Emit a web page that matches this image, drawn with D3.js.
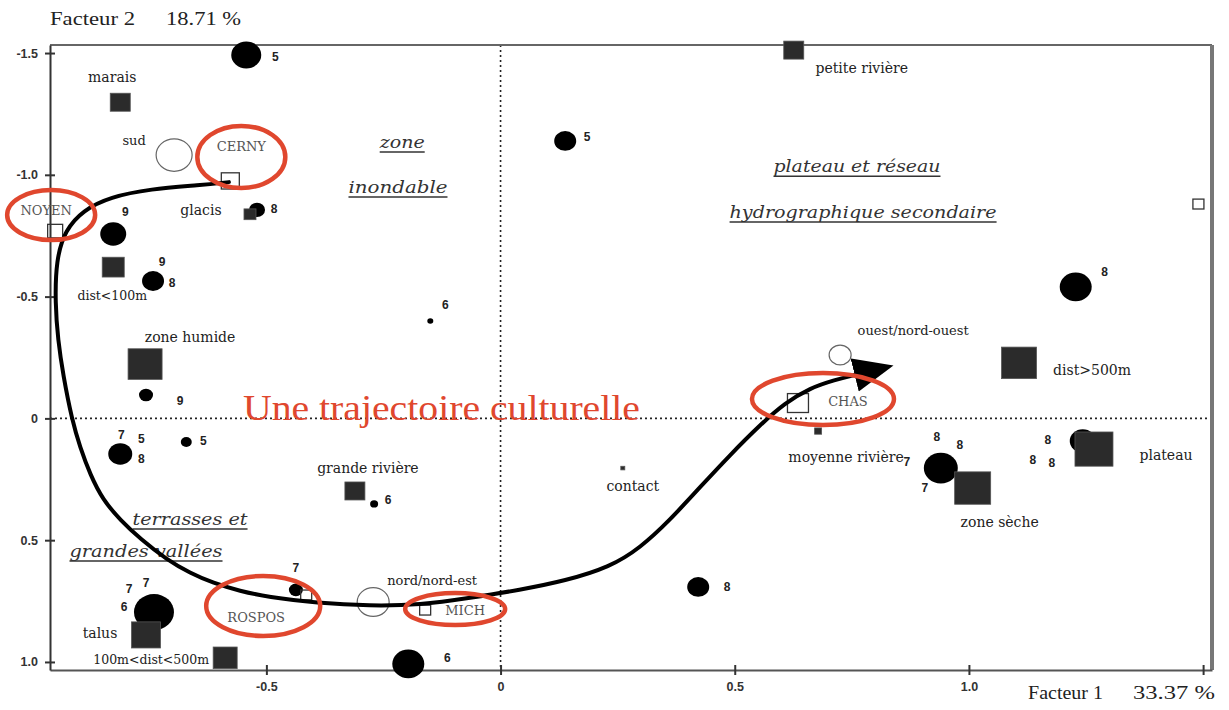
<!DOCTYPE html>
<html>
<head>
<meta charset="utf-8">
<script src="https://cdn.jsdelivr.net/npm/d3@7/dist/d3.min.js"></script>
<style>
    body { margin: 0; background: #fff; }
    svg { display: block; }
    .tick text { font-family: "Liberation Sans", Arial, sans-serif; font-weight: bold; font-size: 12.5px; fill: #333; }
</style>
</head>
<body>
<script>

// DATA

// periods (black circles), with the period numbers written next to them
const periodX = [-0.543, 0.138, -0.520, -0.827, -0.742, -0.757, -0.812, -0.671, -0.150, -0.270, -0.437, -0.740, -0.197, 0.422, 1.228, 0.940, 1.243];
const periodY = [-1.492, -1.139, -0.856, -0.757, -0.564, -0.096, 0.146, 0.097, -0.400, 0.351, 0.704, 0.795, 1.008, 0.692, -0.540, 0.204, 0.093];
const periodWeight = [225, 121, 64, 169, 121, 49, 144, 30, 9, 16, 49, 400, 256, 121, 256, 289, 169];
const periodLabels = [["5"], ["5"], ["8"], ["9"], ["9", "8"], ["9"], ["7", "5", "8"], ["5"], ["6"], ["6"], ["7"], ["7", "7", "6"], ["6"], ["8"], ["8"], ["8", "8", "7", "7"], ["8", "8", "8"]];

// environment modalities (dark squares)
const envNames = ["marais", "petite rivière", "glacis", "dist<100m", "zone humide", "grande rivière", "talus", "100m<dist<500m", "dist>500m", "plateau", "zone sèche", "moyenne rivière", "contact"];
const envX = [-0.812, 0.626, -0.535, -0.827, -0.759, -0.311, -0.757, -0.588, 1.107, 1.267, 1.008, 0.678, 0.261];
const envY = [-1.298, -1.512, -0.838, -0.621, -0.223, 0.298, 0.889, 0.983, -0.228, 0.126, 0.286, 0.052, 0.204];
const envWeight = [400, 400, 144, 484, 1156, 400, 841, 576, 1225, 1444, 1296, 49, 16];

// orientation (open circles)
const orientNames = ["sud", "nord/nord-est", "ouest/nord-ouest"];
const orientX = [-0.697, -0.272, 0.725];
const orientY = [-1.081, 0.754, -0.260];
const orientWeight = [324, 256, 121];

// sites (open squares)
const siteNames = ["CERNY", "NOYEN", "ROSPOS", "MICH", "CHAS", ""];
const siteX = [-0.577, -0.951, -0.415, -0.161, 0.635, 1.490];
const siteY = [-0.975, -0.769, 0.725, 0.787, -0.063, -0.880];
const siteWeight = [324, 225, 121, 121, 441, 121];

// the cultural trajectory drawn through the sites
const trajX = [-0.580, -0.641, -0.748, -0.834, -0.891, -0.930, -0.949, -0.951, -0.945, -0.934, -0.915, -0.898, -0.876, -0.849, -0.812, -0.769, -0.712, -0.663, -0.614, -0.556, -0.498, -0.392, -0.279, -0.172, -0.065, 0.042, 0.138, 0.234, 0.298, 0.362, 0.426, 0.490, 0.554, 0.607, 0.661, 0.714, 0.756];
const trajY = [-0.970, -0.958, -0.942, -0.909, -0.855, -0.773, -0.650, -0.474, -0.322, -0.178, 0.007, 0.117, 0.232, 0.335, 0.417, 0.495, 0.581, 0.635, 0.676, 0.709, 0.733, 0.758, 0.770, 0.766, 0.737, 0.704, 0.667, 0.610, 0.532, 0.417, 0.282, 0.150, 0.027, -0.063, -0.125, -0.158, -0.178];

// zones
const zoneLabels = ["zone", "inondable", "plateau et réseau", "hydrographique secondaire", "terrasses et", "grandes vallées"];

const xTicks = [-0.5, 0, 0.5, 1.0, 1.5];
const yTicks = [-1.5, -1.0, -0.5, 0, 0.5, 1.0];

const factor1 = ["Facteur 1", "33.37 %"];
const factor2 = ["Facteur 2", "18.71 %"];
const trajTitle = "Une trajectoire culturelle";

// LAYOUT

let width = 1229;
let height = 710;
let margin = { left: 50, right: 17, top: 45, bottom: 40 };
let squash = 0.9; // marks are a bit wider than tall in the picture

let periodLabelOffsets = [
    [[29, 2]], [[22, -4]], [[17, -1]], [[12, -22]], [[9, -19], [19, 2]], [[34, 6]],
    [[1, -19], [21, -15], [21, 5]], [[17, -1]], [[15, -16]], [[14, -4]], [[0, -22]],
    [[-25, -23], [-8, -29], [-30, -5]], [[39, -6]], [[29, 0]], [[29, -15]],
    [[-4, -31], [19, -23], [-34, -6], [-16, 20]], [[-35, -1], [-50, 19], [-31, 22]]
];
let envLabelOffsets = [[-8, -25], [68, 18], [-49, -4], [-1, 28], [45, -27], [13, -23], [-46, -2], [-74, 2], [73, 7], [72, 6], [27, 34], [28, 26], [10, 18]];
let orientLabelOffsets = [[-40, -15], [59, -22], [73, -25]];
let siteLabelOffsets = [[11, -34], [-9, -21], [-50, 22], [40, 0], [50, -2], [0, 0]];
// red rings drawn round the sites: dx, dy, rx, ry
let siteRings = [[11, -24, 44, 31], [-4, -16, 44, 25], [-43, 11, 57, 30], [30, -1, 50, 16], [25, -4, 71, 26], null];
// zone labels: anchor in data units, width in px
let zonePos = [[-0.210, -1.110, 45], [-0.219, -0.925, 99], [0.761, -1.011, 167], [0.774, -0.823, 267], [-0.663, 0.438, 115], [-0.757, 0.569, 153]];

let red = "#e0472e";

let svg = d3.select('body').append('svg')
    .attr('width', width)
    .attr('height', height);

svg.append("rect").attr("width", width).attr("height", height).attr("fill", "#fff");

let x_scale = d3.scaleLinear()
    .domain([-0.962, 1.519])
    .range([margin.left, width - margin.right]);

let y_scale = d3.scaleLinear()
    .domain([-1.533, 1.033])
    .range([margin.top, height - margin.bottom]);

let r_scale = d3.scaleSqrt().domain([0, 400]).range([0, 20]);
let side_scale = d3.scaleSqrt().domain([0, 1600]).range([0, 40]);

let fmt = d => d === 0 ? "0" : d.toFixed(1);

// zero lines (dotted)
svg.append("line")
    .attr("x1", x_scale(0)).attr("x2", x_scale(0))
    .attr("y1", y_scale.range()[0]).attr("y2", y_scale.range()[1])
    .attr("stroke", "#222").attr("stroke-width", 1.6).attr("stroke-dasharray", "2,3");
svg.append("line")
    .attr("x1", x_scale.range()[0]).attr("x2", x_scale.range()[1])
    .attr("y1", y_scale(0)).attr("y2", y_scale(0))
    .attr("stroke", "#222").attr("stroke-width", 1.6).attr("stroke-dasharray", "2,3");

// frame top and right
svg.append("line")
    .attr("x1", x_scale.range()[0]).attr("x2", x_scale.range()[1])
    .attr("y1", y_scale.range()[0]).attr("y2", y_scale.range()[0])
    .attr("stroke", "#666").attr("stroke-width", 2);
svg.append("line")
    .attr("x1", x_scale.range()[1]).attr("x2", x_scale.range()[1])
    .attr("y1", y_scale.range()[0]).attr("y2", y_scale.range()[1])
    .attr("stroke", "#777").attr("stroke-width", 4);

// axes
let x_axis = d3.axisBottom(x_scale)
    .tickValues(xTicks)
    .tickFormat(d => d === 1.5 ? "" : fmt(d))
    .tickSizeInner(5).tickSizeOuter(0).tickPadding(7);
let gx = svg.append("g")
    .attr("class", "x axis")
    .attr("transform", "translate(0," + y_scale.range()[1] + ")")
    .call(x_axis);
gx.select(".domain").attr("stroke", "#555").attr("stroke-width", 2);
gx.selectAll(".tick line").attr("y1", -5).attr("stroke", "#333").attr("stroke-width", 2);

let y_axis = d3.axisLeft(y_scale)
    .tickValues(yTicks)
    .tickFormat(fmt)
    .tickSizeInner(5).tickSizeOuter(0).tickPadding(7);
let gy = svg.append("g")
    .attr("class", "y axis")
    .attr("transform", "translate(" + x_scale.range()[0] + ",0)")
    .call(y_axis);
gy.select(".domain").attr("stroke", "#333").attr("stroke-width", 2);
gy.selectAll(".tick line").attr("x1", 5).attr("stroke", "#333").attr("stroke-width", 2);

// axis titles
let times = "'Liberation Serif', 'Times New Roman', serif";
svg.append("text").attr("x", 50).attr("y", 25).attr("textLength", 85).attr("lengthAdjust", "spacingAndGlyphs")
    .style("font-family", times).style("font-size", "19px").attr("fill", "#222")
    .text(factor2[0]);
svg.append("text").attr("x", 166).attr("y", 25).attr("textLength", 75).attr("lengthAdjust", "spacingAndGlyphs")
    .style("font-family", times).style("font-size", "19px").attr("fill", "#222")
    .text(factor2[1]);
svg.append("text").attr("x", 1028).attr("y", 699).attr("textLength", 75).attr("lengthAdjust", "spacingAndGlyphs")
    .style("font-family", times).style("font-size", "18px").attr("fill", "#222")
    .text(factor1[0]);
svg.append("text").attr("x", 1133).attr("y", 699).attr("textLength", 82).attr("lengthAdjust", "spacingAndGlyphs")
    .style("font-family", times).style("font-size", "18px").attr("fill", "#222")
    .text(factor1[1]);

// zone labels, italic and underlined
zoneLabels.forEach((t, i) => {
    let cx = x_scale(zonePos[i][0]);
    let cy = y_scale(zonePos[i][1]);
    let w = zonePos[i][2];
    svg.append("text")
        .attr("x", cx).attr("y", cy)
        .attr("text-anchor", "middle")
        .attr("textLength", w).attr("lengthAdjust", "spacingAndGlyphs")
        .style("font-family", "'DejaVu Serif', serif").style("font-style", "italic").style("font-size", "17px")
        .attr("fill", "#333")
        .text(t);
    svg.append("line")
        .attr("x1", cx - w / 2).attr("x2", cx + w / 2)
        .attr("y1", cy + 4).attr("y2", cy + 4)
        .attr("stroke", "#333").attr("stroke-width", 1.5);
});

// periods
let periods = periodX.map((v, i) => ({ x: v, y: periodY[i], w: periodWeight[i], labels: periodLabels[i], off: periodLabelOffsets[i] }));

svg.append("g").selectAll("ellipse")
    .data(periods)
    .join("ellipse")
    .attr("cx", d => x_scale(d.x))
    .attr("cy", d => y_scale(d.y))
    .attr("rx", d => r_scale(d.w))
    .attr("ry", d => r_scale(d.w) * squash)
    .attr("fill", "#000");

// environment squares
let envs = envNames.map((n, i) => ({ name: n, x: envX[i], y: envY[i], w: envWeight[i], off: envLabelOffsets[i] }));

svg.append("g").selectAll("rect")
    .data(envs)
    .join("rect")
    .attr("x", d => x_scale(d.x) - side_scale(d.w) / 2)
    .attr("y", d => y_scale(d.y) - side_scale(d.w) * squash / 2)
    .attr("width", d => side_scale(d.w))
    .attr("height", d => side_scale(d.w) * squash)
    .attr("fill", "#2b2b2b")
    .attr("stroke", "#555").attr("stroke-width", 0.8);

// orientation circles
let orients = orientNames.map((n, i) => ({ name: n, x: orientX[i], y: orientY[i], w: orientWeight[i], off: orientLabelOffsets[i] }));

svg.append("g").selectAll("ellipse")
    .data(orients)
    .join("ellipse")
    .attr("cx", d => x_scale(d.x))
    .attr("cy", d => y_scale(d.y))
    .attr("rx", d => r_scale(d.w))
    .attr("ry", d => r_scale(d.w) * squash)
    .attr("fill", "#fff")
    .attr("stroke", "#666").attr("stroke-width", 1.2);

// sites
let sites = siteNames.map((n, i) => ({ name: n, x: siteX[i], y: siteY[i], w: siteWeight[i], off: siteLabelOffsets[i], ring: siteRings[i] }));

svg.append("g").selectAll("rect")
    .data(sites)
    .join("rect")
    .attr("x", d => x_scale(d.x) - side_scale(d.w) / 2)
    .attr("y", d => y_scale(d.y) - side_scale(d.w) * squash / 2)
    .attr("width", d => side_scale(d.w))
    .attr("height", d => side_scale(d.w) * squash)
    .attr("fill", "none")
    .attr("stroke", "#333").attr("stroke-width", 1.3);

// trajectory
svg.append("defs").append("marker")
    .attr("id", "arrow")
    .attr("markerUnits", "userSpaceOnUse")
    .attr("viewBox", "0 -18 42 36")
    .attr("markerWidth", 42).attr("markerHeight", 36)
    .attr("refX", 0).attr("refY", 0)
    .attr("orient", "auto")
    .append("path")
    .attr("d", "M0,-17L40,0L0,17Z")
    .attr("fill", "#000");

let traj = trajX.map((v, i) => ({ x: v, y: trajY[i] }));
let line = d3.line()
    .x(d => x_scale(d.x))
    .y(d => y_scale(d.y))
    .curve(d3.curveBasis);

svg.append("path")
    .attr("d", line(traj))
    .attr("fill", "none")
    .attr("stroke", "#000")
    .attr("stroke-width", 4)
    .attr("stroke-linecap", "round")
    .attr("marker-end", "url(#arrow)");

// labels
let serif = "'DejaVu Serif', serif";

svg.append("g").selectAll("text")
    .data(envs)
    .join("text")
    .attr("x", d => x_scale(d.x) + d.off[0])
    .attr("y", d => y_scale(d.y) + d.off[1])
    .attr("dy", "0.35em")
    .attr("text-anchor", "middle")
    .style("font-family", serif).style("font-size", d => d.name.indexOf("<") >= 0 ? "12.5px" : "14px")
    .attr("fill", "#222")
    .text(d => d.name);

svg.append("g").selectAll("text")
    .data(orients)
    .join("text")
    .attr("x", d => x_scale(d.x) + d.off[0])
    .attr("y", d => y_scale(d.y) + d.off[1])
    .attr("dy", "0.35em")
    .attr("text-anchor", "middle")
    .style("font-family", serif).style("font-size", "13px")
    .attr("fill", "#222")
    .text(d => d.name);

svg.append("g").selectAll("text")
    .data(sites)
    .join("text")
    .attr("x", d => x_scale(d.x) + d.off[0])
    .attr("y", d => y_scale(d.y) + d.off[1])
    .attr("dy", "0.35em")
    .attr("text-anchor", "middle")
    .style("font-family", serif).style("font-size", "13px")
    .attr("fill", "#555")
    .text(d => d.name);

let numbers = [];
periods.forEach(p => p.labels.forEach((t, j) => numbers.push({ t: t, x: p.x, y: p.y, off: p.off[j] })));

svg.append("g").selectAll("text")
    .data(numbers)
    .join("text")
    .attr("x", d => x_scale(d.x) + d.off[0])
    .attr("y", d => y_scale(d.y) + d.off[1])
    .attr("dy", "0.35em")
    .attr("text-anchor", "middle")
    .style("font-family", "'Liberation Sans', Arial, sans-serif").style("font-weight", "bold").style("font-size", "12px")
    .attr("fill", "#222")
    .text(d => d.t);

// red rings round the sites
svg.append("g").selectAll("ellipse")
    .data(sites.filter(d => d.ring))
    .join("ellipse")
    .attr("cx", d => x_scale(d.x) + d.ring[0])
    .attr("cy", d => y_scale(d.y) + d.ring[1])
    .attr("rx", d => d.ring[2])
    .attr("ry", d => d.ring[3])
    .attr("fill", "none")
    .attr("stroke", red)
    .attr("stroke-width", 4.5);

// red title
svg.append("text")
    .attr("x", x_scale(-0.550))
    .attr("y", y_scale(0.007))
    .attr("textLength", 397).attr("lengthAdjust", "spacingAndGlyphs")
    .style("font-family", times).style("font-size", "36px")
    .attr("fill", red)
    .text(trajTitle);

</script>
</body>
</html>
